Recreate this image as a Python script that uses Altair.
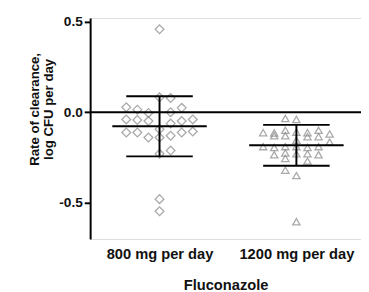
import altair as alt
import pandas as pd

# ---- data ----
groups = ["800 mg per day", "1200 mg per day"]

# 800 mg per day: clearance values and beeswarm column index
v800 = [0.458, 0.082, 0.078, 0.027, 0.014, 0.024, -0.004, 0.0,
        -0.040, -0.043, -0.049, -0.049, -0.040, -0.063,
        -0.112, -0.112, -0.112, -0.107, -0.140, -0.140, -0.130, -0.094,
        -0.230, -0.212, -0.480, -0.547]
c800 = [0, 0, 1, -3, -2, 2, -1, 1,
        -3, -2, -1, 2, 3, 1,
        -3, -2, 2, 3, -1, 0, 1, 0,
        0, 1, 0, 0]

# 1200 mg per day
v1200 = [-0.035, -0.040,
         -0.113, -0.115, -0.100, -0.110, -0.113, -0.100, -0.120,
         -0.130, -0.130, -0.135, -0.135,
         -0.165, -0.155,
         -0.190, -0.195, -0.190, -0.190, -0.195, -0.190,
         -0.235, -0.225, -0.230, -0.230, -0.235,
         -0.255, -0.270, -0.320, -0.350, -0.605]
c1200 = [-1, 0,
         -3, -2, -1, 0, 1, 2, 3,
         -2, -1, 1, 2,
         3, 0,
         -3, -2, -1, 0, 1, 2,
         -2, -1, 0, 1, 2,
         -1, 1, -1, 0, 0]

means = [-0.078, -0.183]
sds = [0.166, 0.113]

COL_STEP = 0.081   # beeswarm column spacing in category units
MEAN_HALF = 0.345  # half length of mean line
CAP_HALF = 0.243   # half length of SD caps

pts800 = pd.DataFrame({"g": 0, "value": v800, "col": c800})
pts1200 = pd.DataFrame({"g": 1, "value": v1200, "col": c1200})
for d in (pts800, pts1200):
    d["xpos"] = d["g"] + d["col"] * COL_STEP

summ = pd.DataFrame({"g": [0, 1], "mean": means, "sd": sds})
summ["lo"] = summ["mean"] - summ["sd"]
summ["hi"] = summ["mean"] + summ["sd"]
summ["mx1"] = summ["g"] - MEAN_HALF
summ["mx2"] = summ["g"] + MEAN_HALF
summ["cx1"] = summ["g"] - CAP_HALF
summ["cx2"] = summ["g"] + CAP_HALF

FONT = "Liberation Sans"
xscale = alt.Scale(domain=[-0.507, 1.472], nice=False, zero=False)
yscale = alt.Scale(domain=[-0.70, 0.52], nice=False, zero=False)

label_expr = "datum.value < 0.5 ? '800 mg per day' : '1200 mg per day'"
xaxis = alt.Axis(values=[0, 1], labelExpr=label_expr, title="Fluconazole",
                 domain=False, ticks=False, grid=False,
                 labelFont=FONT, labelFontSize=15, labelFontWeight="bold",
                 labelColor="#111", labelPadding=8,
                 titleFont=FONT, titleFontSize=15, titleFontWeight="bold",
                 titleColor="#111", titlePadding=17)
yaxis = alt.Axis(values=[-0.5, 0, 0.5],
                 labelExpr="replace(format(datum.value, '.1f'), '\u2212', '-')",
                 title=["Rate of clearance,", "log CFU per day"],
                 grid=False, domainColor="#000", domainWidth=2,
                 tickColor="#000", tickWidth=2, tickSize=6,
                 labelFont=FONT, labelFontSize=14, labelFontWeight="bold",
                 labelColor="#111", labelPadding=2,
                 titleFont=FONT, titleFontSize=13.5, titleFontWeight="bold",
                 titleColor="#111", titleX=-57, titleY=93,
                 titleAlign="center", titleBaseline="middle", titleLineHeight=14.5)

X = alt.X("xpos:Q", scale=xscale, axis=xaxis)
Y = alt.Y("value:Q", scale=yscale, axis=yaxis)

diam = alt.Chart(pts800).mark_point(shape="diamond", filled=False, size=80,
                                    color="#858585", strokeWidth=1.3).encode(x=X, y=Y)
tri = alt.Chart(pts1200).mark_point(shape="triangle-up", filled=False, size=55,
                                    color="#858585", strokeWidth=1.3).encode(
    x=alt.X("xpos:Q", scale=xscale), y=alt.Y("value:Q", scale=yscale))

base = alt.Chart(summ)
mean_line = base.mark_rule(color="#000", strokeWidth=2).encode(
    x=alt.X("mx1:Q", scale=xscale), x2="mx2:Q", y=alt.Y("mean:Q", scale=yscale))
cap_hi = base.mark_rule(color="#000", strokeWidth=2).encode(
    x=alt.X("cx1:Q", scale=xscale), x2="cx2:Q", y=alt.Y("hi:Q", scale=yscale))
cap_lo = base.mark_rule(color="#000", strokeWidth=2).encode(
    x=alt.X("cx1:Q", scale=xscale), x2="cx2:Q", y=alt.Y("lo:Q", scale=yscale))
vert = base.mark_rule(color="#000", strokeWidth=2).encode(
    x=alt.X("g:Q", scale=xscale), y=alt.Y("lo:Q", scale=yscale), y2="hi:Q")

zero = alt.Chart(pd.DataFrame({"z": [0.0]})).mark_rule(color="#000", strokeWidth=2).encode(
    y=alt.Y("z:Q", scale=yscale))

chart = alt.layer(diam, tri, mean_line, cap_hi, cap_lo, vert, zero).properties(
    width=277, height=226,
    padding={"left": 84, "top": 7, "right": 0, "bottom": 51},
    autosize=alt.AutoSizeParams(type="none"),
).configure_view(stroke=None).configure(background="white")

chart.save("out.html", embed_options={"renderer": "svg", "actions": False})
